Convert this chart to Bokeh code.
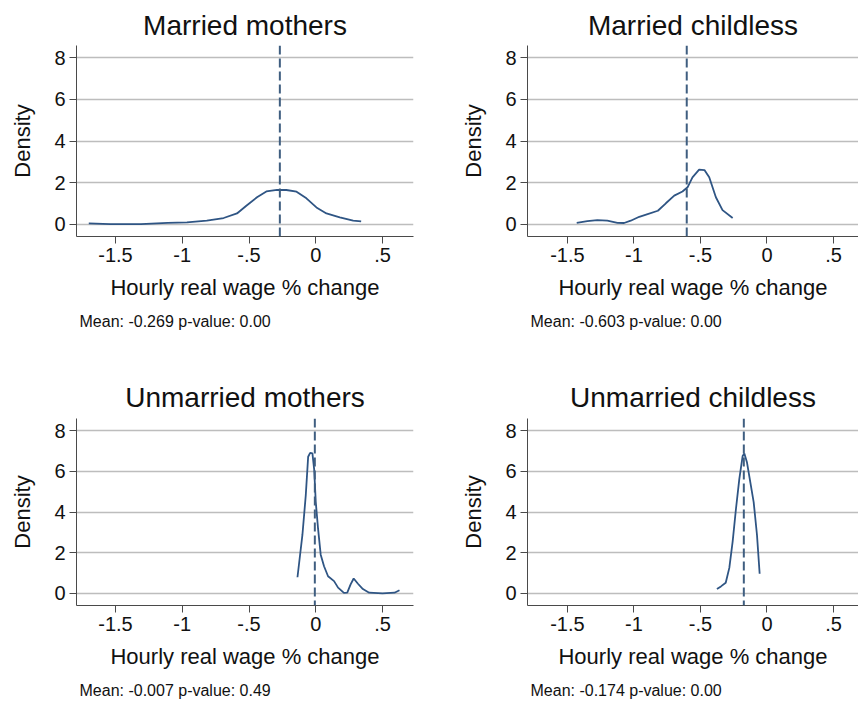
from bokeh.plotting import figure
from bokeh.models import Range1d, FixedTicker, Span, Title, ColumnDataSource
from bokeh.layouts import gridplot
from bokeh.embed import file_html
from bokeh.resources import INLINE

# ---- data -------------------------------------------------------------
titles = ["Married mothers", "Married childless", "Unmarried mothers", "Unmarried childless"]
means = [-0.269, -0.603, -0.007, -0.174]
pvalues = [0.00, 0.00, 0.49, 0.00]

mm_x = [-1.70, -1.54, -1.31, -1.11, -0.965, -0.816, -0.69, -0.59, -0.52, -0.44,
        -0.37, -0.29, -0.22, -0.144, -0.07, 0.005, 0.08, 0.18, 0.28, 0.34]
mm_y = [0.03, 0.0, 0.0, 0.06, 0.08, 0.16, 0.29, 0.51, 0.88, 1.29,
        1.57, 1.65, 1.64, 1.56, 1.24, 0.80, 0.51, 0.32, 0.16, 0.13]

mc_x = [-1.43, -1.35, -1.275, -1.20, -1.124, -1.074, -1.024, -0.96, -0.897, -0.82,
        -0.76, -0.697, -0.635, -0.597, -0.56, -0.51, -0.47, -0.434, -0.384, -0.334, -0.258]
mc_y = [0.06, 0.14, 0.19, 0.16, 0.06, 0.05, 0.16, 0.35, 0.48, 0.64,
        1.0, 1.37, 1.57, 1.77, 2.25, 2.62, 2.6, 2.25, 1.29, 0.67, 0.29]

um_x = [-0.137, -0.10, -0.075, -0.057, -0.042, -0.025, -0.012, 0.0, 0.017, 0.037,
        0.062, 0.092, 0.137, 0.167, 0.211, 0.236, 0.261, 0.284, 0.316, 0.353,
        0.40, 0.50, 0.59, 0.627]
um_y = [0.79, 2.87, 4.81, 6.72, 6.91, 6.88, 6.1, 4.49, 3.19, 1.9,
        1.33, 0.84, 0.6, 0.28, 0.02, 0.03, 0.44, 0.73, 0.47, 0.21,
        0.03, 0.0, 0.03, 0.15]

uc_x = [-0.376, -0.346, -0.31, -0.283, -0.258, -0.233, -0.208, -0.183, -0.17, -0.15,
        -0.125, -0.10, -0.075, -0.055]
uc_y = [0.21, 0.34, 0.52, 1.25, 2.54, 4.16, 5.62, 6.75, 6.88, 6.43,
        5.46, 4.49, 2.87, 0.96]

series_x = [mm_x, mc_x, um_x, uc_x]
series_y = [mm_y, mc_y, um_y, uc_y]

x_ticks = [-1.5, -1.0, -0.5, 0.0, 0.5]
x_tick_labels = ["-1.5", "-1", "-.5", "0", ".5"]
y_ticks = [0, 2, 4, 6, 8]

x_label = "Hourly real wage % change"
y_label = "Density"

# ---- styling ----------------------------------------------------------
FONT = "Liberation Sans"
CURVE = "#2f5584"
DASH = "#3f5e80"
AXIS = "#4a4a4a"
GRID = "#bdbdbd"


def make_panel(i, col, row):
    if col == 0:
        width, b_left, b_right = 430, 76, 17
        xr = Range1d(-1.792, 0.732)
        t_off = 0
    else:
        width, b_left, b_right = 428, 97, 0
        xr = Range1d(-1.80, 0.688)
        t_off = 2
    if row == 0:
        height, b_top, b_bottom = 355, 45, 119
        t_standoff = 10
    else:
        height, b_top, b_bottom = 351, 63, 98
        t_standoff = 12

    p = figure(width=width, height=height, x_range=xr, y_range=Range1d(-0.6, 8.6),
               output_backend="svg", toolbar_location=None,
               min_border_left=b_left, min_border_right=b_right,
               min_border_top=b_top, min_border_bottom=b_bottom,
               background_fill_color="white", border_fill_color="white")
    p.outline_line_color = None

    p.title.text = titles[i]
    p.title.align = "center"
    p.title.text_font = FONT
    p.title.text_font_size = "28px"
    p.title.text_font_style = "normal"
    p.title.text_color = "#111111"
    p.title.standoff = t_standoff
    p.title.offset = t_off

    src = ColumnDataSource(dict(x=series_x[i], y=series_y[i]))
    p.line("x", "y", source=src, line_color=CURVE, line_width=1.8)
    p.add_layout(Span(location=means[i], dimension="height", line_color=DASH,
                      line_width=2, line_dash="9 4"))

    # axes
    for ax in (p.xaxis[0], p.yaxis[0]):
        ax.axis_line_color = AXIS
        ax.axis_line_width = 1
        ax.major_tick_line_color = AXIS
        ax.major_tick_out = 7
        ax.major_tick_in = 0
        ax.minor_tick_line_color = None
        ax.major_label_text_font = FONT
        ax.major_label_text_font_size = "20px"
        ax.major_label_text_color = "#111111"
        ax.axis_label_text_font = FONT
        ax.axis_label_text_font_size = "22px"
        ax.axis_label_text_font_style = "normal"
        ax.axis_label_text_color = "#111111"

    p.xaxis.ticker = FixedTicker(ticks=x_ticks)
    p.xaxis.major_label_overrides = {t: l for t, l in zip(x_ticks, x_tick_labels)}
    p.xaxis.axis_label = x_label
    p.xaxis.major_label_standoff = 4
    p.xaxis.axis_label_standoff = 10

    p.yaxis.ticker = FixedTicker(ticks=y_ticks)
    p.yaxis.axis_label = y_label
    p.yaxis.major_label_standoff = 4
    p.yaxis.axis_label_standoff = 16

    p.xgrid.visible = False
    p.ygrid.grid_line_color = GRID
    p.ygrid.grid_line_width = 1.5

    note = Title(text=f"Mean: {means[i]:.3f} p-value: {pvalues[i]:.2f}",
                 align="left", offset=3, standoff=16,
                 text_font=FONT, text_font_size="16px", text_font_style="normal",
                 text_color="#111111")
    p.add_layout(note, "below")
    return p


panels = [make_panel(0, 0, 0), make_panel(1, 1, 0),
          make_panel(2, 0, 1), make_panel(3, 1, 1)]

layout = gridplot([[panels[0], panels[1]], [panels[2], panels[3]]],
                  toolbar_location=None)

open("out.html", "w").write(file_html(layout, INLINE))
